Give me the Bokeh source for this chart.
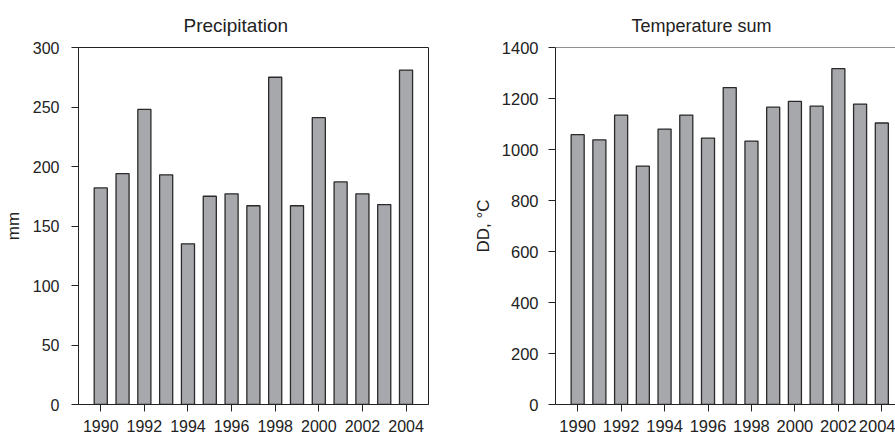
from bokeh.plotting import figure
from bokeh.layouts import row
from bokeh.models import Range1d, FixedTicker, Span
from bokeh.embed import file_html
from bokeh.resources import INLINE

# ---- data ----
years = list(range(1990, 2005))
precip_mm = [182, 194, 248, 193, 135, 175, 177, 167, 275, 167, 241, 187, 177, 168, 281]
temp_sum = [1058, 1038, 1135, 935, 1080, 1135, 1045, 1243, 1033, 1166, 1189, 1170, 1317, 1178, 1104]
year_ticks = [1990, 1992, 1994, 1996, 1998, 2000, 2002, 2004]
precip_ticks = [0, 50, 100, 150, 200, 250, 300]
temp_ticks = [0, 200, 400, 600, 800, 1000, 1200, 1400]
titles = ["Precipitation", "Temperature sum"]
ylabels = ["mm", "DD, \u00b0C"]

FONT = "Liberation Sans"
TXT = "#222222"
BAR_FILL = "#a7a8ac"
BAR_LINE = "#2a2a2a"


def style(p, xticks, yticks, tick_size, title_size, ylab_std, ytick_std, title_offset):
    p.xgrid.visible = False
    p.ygrid.visible = False
    p.title.text_font = FONT
    p.title.text_font_size = title_size
    p.title.text_font_style = "normal"
    p.title.text_color = TXT
    p.title.align = "left"
    p.title.offset = title_offset
    p.title.standoff = 24
    for ax in (p.xaxis[0], p.yaxis[0]):
        ax.axis_line_color = TXT
        ax.axis_line_width = 1
        ax.major_tick_line_color = TXT
        ax.major_tick_line_width = 1
        ax.major_tick_out = 7
        ax.major_tick_in = 0
        ax.minor_tick_line_color = None
        ax.major_label_text_font = FONT
        ax.major_label_text_font_size = tick_size
        ax.major_label_text_color = TXT
    p.xaxis[0].ticker = FixedTicker(ticks=xticks)
    p.yaxis[0].ticker = FixedTicker(ticks=yticks)
    p.xaxis[0].major_label_standoff = 8
    p.yaxis[0].major_label_standoff = ytick_std
    p.yaxis[0].axis_label_text_font = FONT
    p.yaxis[0].axis_label_text_font_size = "17px"
    p.yaxis[0].axis_label_text_font_style = "normal"
    p.yaxis[0].axis_label_text_color = TXT
    p.yaxis[0].axis_label_standoff = ylab_std


p1 = figure(width=470, height=435, output_backend="svg", toolbar_location=None,
            title=titles[0], y_axis_label=ylabels[0],
            x_range=Range1d(1988.98, 2005.03), y_range=Range1d(0, 300),
            min_border_left=70, min_border_right=42, min_border_top=47, min_border_bottom=31)
p1.vbar(x=years, top=precip_mm, width=0.6, bottom=0,
        fill_color=BAR_FILL, line_color=BAR_LINE, line_width=1.3)
p1.outline_line_color = TXT
p1.outline_line_width = 1
style(p1, year_ticks, precip_ticks, "16px", "19px", 7, 12, 105)

p2 = figure(width=425, height=435, output_backend="svg", toolbar_location=None,
            title=titles[1], y_axis_label=ylabels[1],
            x_range=Range1d(1988.98, 2004.63), y_range=Range1d(0, 1400),
            min_border_left=76, min_border_right=0, min_border_top=47, min_border_bottom=31)
p2.vbar(x=years, top=temp_sum, width=0.6, bottom=0,
        fill_color=BAR_FILL, line_color=BAR_LINE, line_width=1.3)
p2.outline_line_color = None
p2.add_layout(Span(location=1400, dimension="width", line_color=TXT, line_width=1))
style(p2, year_ticks, temp_ticks, "16.5px", "18px", 6, 10, 76)

layout = row(p1, p2)
open("out.html", "w").write(file_html(layout, INLINE))
